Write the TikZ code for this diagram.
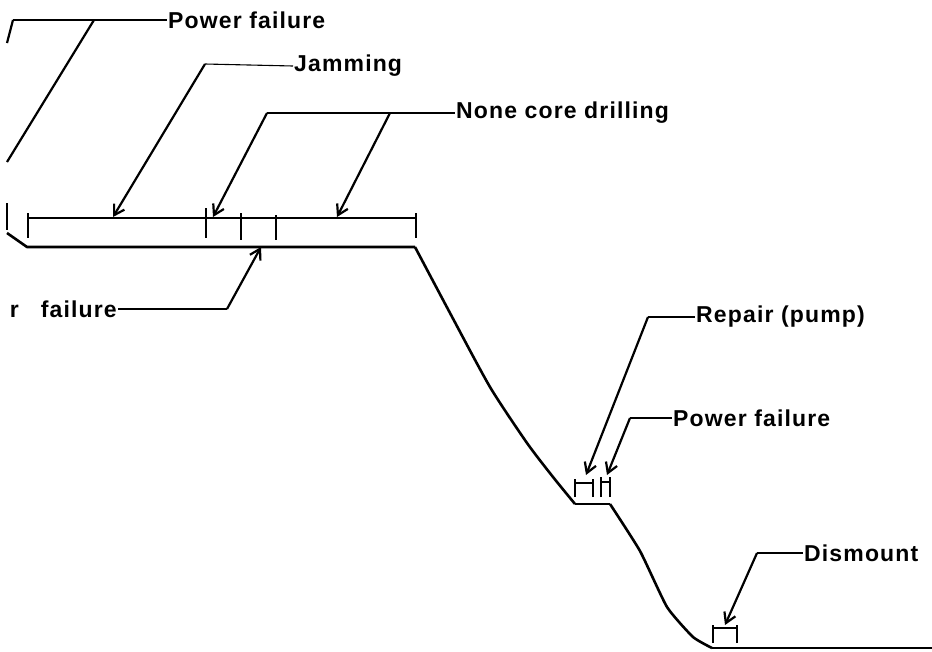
\documentclass[tikz,border=0pt]{standalone}
\usepackage{fontspec}
\setmainfont{Liberation Sans}[LetterSpace=5]
\usetikzlibrary{arrows.meta,positioning}
\tikzset{
  prof/.style={line width=2.6pt,line join=round},
  lead/.style={line width=1.1pt},
  pil/.style={line width=2.2pt,-{Straight Barb[length=10pt,width=12pt]}},
  tck/.style={line width=2.2pt},
  lab/.style={anchor=west,inner sep=1pt,font=\bfseries\fontsize{23}{27}\selectfont},
}

\begin{document}
\begin{tikzpicture}[x=1pt,y=-1pt]
  \useasboundingbox (0,0) rectangle (932,651);
  % labels
  \node[lab] (pf) at (167,20) {Power failure};
  \node[lab] (jam) at (293,66) {Jamming};
  \node[lab] (ncd) at (455,113) {None core drilling};
  \node[lab,anchor=east] (rf) at (118,309) {r\hspace{22pt}failure};
  \node[lab] (rep) at (695,317) {Repair (pump)};
  \node[lab] (pw) at (672,418) {Power failure};
  \node[lab] (dis) at (803,553) {Dismount};
  % leader corners and tips
  \coordinate (pfA) at (13,20);   \coordinate (pfB) at (94,20);
  \coordinate (jamK) at (205,64); \coordinate (jamT) at (113,217);
  \coordinate (ncdA) at (267,113); \coordinate (ncdB) at (390,113);
  \coordinate (ncdS) at (213,217); \coordinate (ncdT) at (337,217);
  \coordinate (rfK) at (227,309); \coordinate (rfT) at (261,247);
  \coordinate (repK) at (648,317); \coordinate (repT) at (586,475);
  \coordinate (pwK) at (630,418); \coordinate (pwT) at (607,475);
  \coordinate (disK) at (757,553); \coordinate (disT) at (725,625);
  \coordinate (pfS) at (7,43); \coordinate (pfL) at (7,162);
  % leaders
  \draw[lead] (pfA) -- (pf.west);
  \draw[lead] (jamK) -- (jam.west);
  \draw[lead] (ncdA) -- (ncd.west);
  \draw[lead] (rf.east) -- (rfK);
  \draw[lead] (repK) -- (rep.west);
  \draw[lead] (pwK) -- (pw.west);
  \draw[lead] (disK) -- (dis.west);
  % arrows
  \draw[tck] (pfA) -- (pfS);
  \draw[tck] (pfB) -- (pfL);
  \draw[pil] (jamK) -- (jamT);
  \draw[pil] (ncdA) -- (ncdS);
  \draw[pil] (ncdB) -- (ncdT);
  \draw[pil] (rfK) -- (rfT);
  \draw[pil] (repK) -- (repT);
  \draw[pil] (pwK) -- (pwT);
  \draw[pil] (disK) -- (disT);
  % drilling profile
  \draw[tck] (7,203) -- (7,230);
  \draw[prof] (7,233) -- (27,247) -- (415,247);
  \draw[prof] plot[smooth,tension=0.4] coordinates
    {(415,247) (450,313) (490,387) (527,443) (553,477) (575,504)};
  \draw[prof] (575,504) -- (610,504);
  \draw[prof] plot[smooth,tension=0.3] coordinates
    {(610,504) (640,551) (667,607) (693,637) (712,648)};
  \draw[prof] (712,648) -- (932,648);
  % bar with ticks
  \draw[lead] (28,218) -- (416,218);
  \foreach \xa/\ya/\yb in {28/213/238,206/208/238,241/213/240,276/215/240,416/213/238}
    \draw[tck] (\xa,\ya) -- (\xa,\yb);
  % pump stops
  \draw[tck] (575,497) -- (575,479);
  \draw[tck] (593,497) -- (593,479);
  \draw[lead] (575,483) -- (593,483);
  \draw[tck] (601,497) -- (601,477);
  \draw[tck] (610,497) -- (610,477);
  \draw[lead] (601,482) -- (610,482);
  % dismount
  \draw[tck] (713,643) -- (713,625);
  \draw[tck] (737,643) -- (737,625);
  \draw[lead] (713,628) -- (737,628);
\end{tikzpicture}
\end{document}
